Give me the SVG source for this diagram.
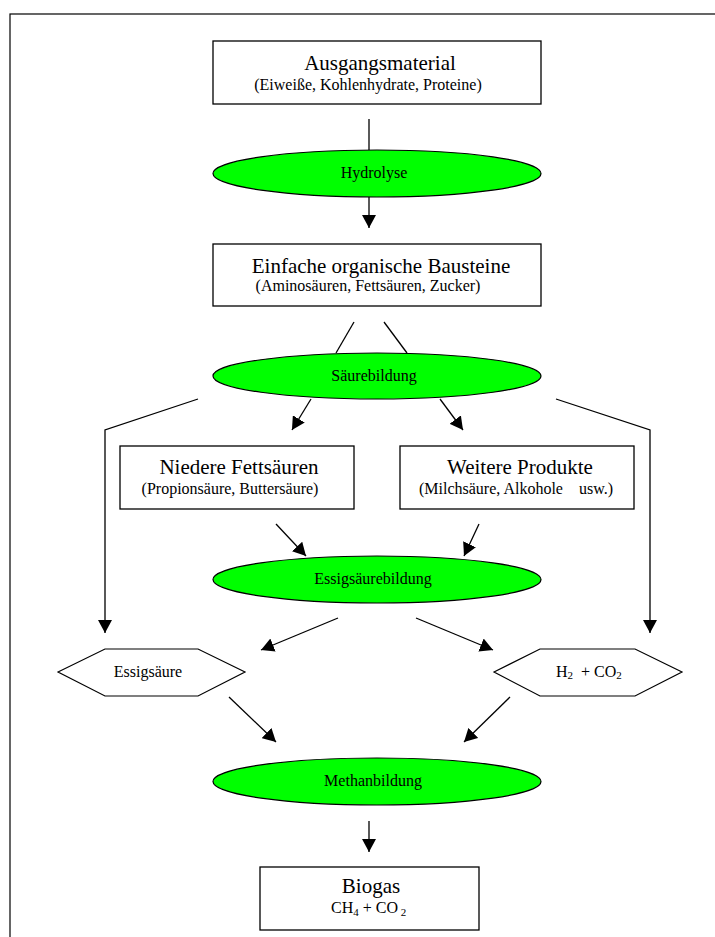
<svg xmlns="http://www.w3.org/2000/svg" width="715" height="937" viewBox="0 0 715 937">
<style>
.box{fill:#fff;stroke:#000;stroke-width:1.3}
.ell{fill:#00ff00;stroke:#000;stroke-width:1.2}
.hex{fill:#fff;stroke:#000;stroke-width:1.2}
.t{font-family:"Liberation Serif","Times New Roman",serif;font-size:21px;fill:#000;text-anchor:middle}
.s{font-family:"Liberation Serif","Times New Roman",serif;font-size:16px;fill:#000;text-anchor:middle}
.sub{font-size:11px}
.c line,.c polyline{stroke:#000;stroke-width:1.3;fill:none}
</style>
<defs>
<marker id="ah" markerUnits="userSpaceOnUse" markerWidth="14" markerHeight="14" refX="13" refY="7" orient="auto">
<path d="M0,0 L13,7 L0,14 Z" fill="#000"/>
</marker>
</defs>
<rect x="0" y="0" width="715" height="937" fill="#fff"/>
<rect x="10" y="14" width="720" height="940" fill="none" stroke="#000" stroke-width="1.2"/>

<g class="c" id="connectors">
<line x1="369" y1="119" x2="369" y2="150"/>
<line x1="369" y1="197" x2="369" y2="228" marker-end="url(#ah)"/>
<line x1="354" y1="322" x2="336" y2="353"/>
<line x1="384" y1="322" x2="407" y2="353"/>
<polyline points="198,399 105,430 105,633" marker-end="url(#ah)"/>
<polyline points="556,399 650,430 650,633" marker-end="url(#ah)"/>
<line x1="311" y1="399" x2="292" y2="430" marker-end="url(#ah)"/>
<line x1="440" y1="399" x2="463" y2="430" marker-end="url(#ah)"/>
<line x1="276" y1="524" x2="306" y2="556" marker-end="url(#ah)"/>
<line x1="479" y1="524" x2="464" y2="556" marker-end="url(#ah)"/>
<line x1="338" y1="618" x2="261" y2="650" marker-end="url(#ah)"/>
<line x1="416" y1="618" x2="493" y2="650" marker-end="url(#ah)"/>
<line x1="229" y1="697" x2="276" y2="742" marker-end="url(#ah)"/>
<line x1="510" y1="697" x2="464" y2="742" marker-end="url(#ah)"/>
<line x1="369" y1="821" x2="369" y2="852" marker-end="url(#ah)"/>
</g>

<g id="ausgangsmaterial">
<rect class="box" x="213" y="41" width="328" height="63"/>
<text class="t" x="380" y="70">Ausgangsmaterial</text>
<text class="s" x="368" y="90">(Eiweiße, Kohlenhydrate, Proteine)</text>
</g>

<g id="hydrolyse">
<ellipse class="ell" cx="377" cy="173.5" rx="164" ry="23.5"/>
<text class="s" x="374" y="178">Hydrolyse</text>
</g>

<g id="bausteine">
<rect class="box" x="213" y="244" width="328" height="62"/>
<text class="t" x="381" y="273">Einfache organische Bausteine</text>
<text class="s" x="368" y="291">(Aminosäuren, Fettsäuren, Zucker)</text>
</g>

<g id="saeurebildung">
<ellipse class="ell" cx="377" cy="376" rx="164" ry="23"/>
<text class="s" x="374" y="381">Säurebildung</text>
</g>

<g id="fettsaeuren">
<rect class="box" x="120" y="446" width="234" height="63"/>
<text class="t" x="239" y="474">Niedere Fettsäuren</text>
<text class="s" x="230" y="494">(Propionsäure, Buttersäure)</text>
</g>

<g id="produkte">
<rect class="box" x="400" y="446" width="234" height="63"/>
<text class="t" x="520" y="474">Weitere Produkte</text>
<text class="s" x="516" y="494" xml:space="preserve">(Milchsäure, Alkohole    usw.)</text>
</g>

<g id="essigsaeurebildung">
<ellipse class="ell" cx="377" cy="579.5" rx="164" ry="23.5"/>
<text class="s" x="373" y="584">Essigsäurebildung</text>
</g>

<g id="essigsaeure">
<polygon class="hex" points="58,672 105,649 198,649 245,672 198,696 105,696"/>
<text class="s" x="148" y="677">Essigsäure</text>
</g>

<g id="h2co2">
<polygon class="hex" points="494,672 540,649 635,649 682,672 635,696 540,696"/>
<text class="s" x="556" y="677" style="text-anchor:start">H<tspan class="sub" dy="2">2</tspan><tspan dy="-2" xml:space="preserve">  + CO</tspan><tspan class="sub" dy="2">2</tspan></text>
</g>

<g id="methanbildung">
<ellipse class="ell" cx="377" cy="781.5" rx="164" ry="23.5"/>
<text class="s" x="373" y="786">Methanbildung</text>
</g>

<g id="biogas">
<rect class="box" x="260" y="867" width="219" height="63"/>
<text class="t" x="371" y="893">Biogas</text>
<text class="s" x="331" y="913" style="text-anchor:start">CH<tspan class="sub" dy="3">4</tspan><tspan dy="-3"> + CO</tspan><tspan class="sub" dy="3"> 2</tspan></text>
</g>
</svg>
